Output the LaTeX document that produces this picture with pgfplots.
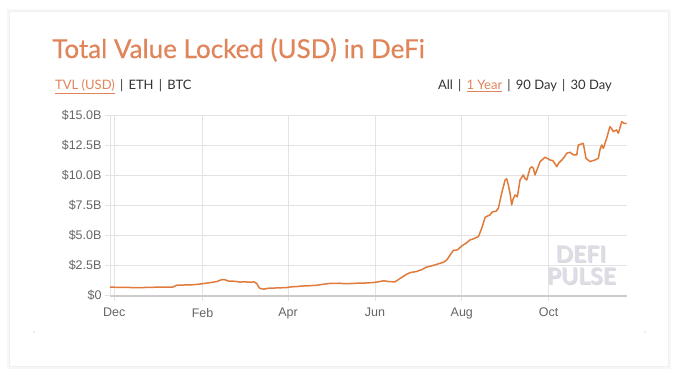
\documentclass[border=0pt]{standalone}
\usepackage{pgfplots}
\pgfplotsset{compat=1.18}
\usetikzlibrary{backgrounds}
\usepackage{fontspec}
\setmainfont{Liberation Sans}
\newfontfamily\hdr{Lato}
\newfontfamily\hdrb{Lato}[FakeBold=0.5]
\definecolor{tvl}{HTML}{E07B3C}
\definecolor{ttl}{HTML}{E0845A}
\definecolor{tick}{HTML}{666666}
\definecolor{grd}{HTML}{E3E3E3}
\definecolor{wm}{HTML}{DDDDE7}
\definecolor{hdrtxt}{HTML}{333333}
\newcommand{\sep}{\hspace{0.4em}|\hspace{0.4em}}
\begin{document}
\begin{tikzpicture}[x=1pt,y=1pt]
\begin{axis}[
  name=ax, scale only axis,
  width=517pt, height=180.5pt,
  xmin=-3, xmax=360, ymin=0, ymax=15,
  xtick={0,62,122,183,244,305},
  xticklabels={Dec,Feb,Apr,Jun,Aug,Oct},
  ytick={0,2.5,5,7.5,10,12.5,15},
  yticklabels={\$0,\$2.5B,\$5.0B,\$7.5B,\$10.0B,\$12.5B,\$15.0B},
  grid=major, grid style={grd, line width=0.8pt},
  axis x line*=bottom, axis y line*=left,
  x axis line style={draw=black!20, line width=2pt},
  y axis line style={draw=grd, line width=0.8pt},
  tick style={grd, line width=0.8pt}, tick align=outside, major tick length=5pt,
  ticklabel style={font=\fontsize{12.5}{14}\selectfont, text=tick},
  xticklabel style={yshift=-4pt},
  clip=false,
]
\addplot[tvl, line width=1.5pt, line join=round] coordinates {
(-3,0.69) (5,0.68) (10,0.67) (15,0.65) (20,0.66) (25,0.68) (30,0.69) (36,0.70) (41,0.70)
(44,0.86) (48,0.87) (52,0.88) (56,0.90) (60,0.95) (63,1.00) (66,1.05) (69,1.10) (72,1.16)
(75,1.30) (77,1.33) (79,1.25) (80,1.20) (85,1.18) (88,1.12) (92,1.13) (96,1.10) (98,1.14)
(100,1.00) (102,0.60) (105,0.53) (108,0.60) (112,0.62) (115,0.63) (121,0.66) (124,0.72)
(128,0.74) (131,0.78) (135,0.80) (142,0.85) (146,0.92) (151,1.00) (158,1.02) (162,0.98)
(165,0.99) (172,1.03) (177,1.04) (182,1.08) (186,1.15) (189,1.22) (193,1.16) (197,1.13)
(202,1.52) (205,1.75) (208,1.91) (212,1.99) (216,2.15) (219,2.35) (224,2.50) (228.8,2.68)
(231,2.75) (233.5,2.96) (236,3.40) (238,3.74) (241,3.80) (244,4.12) (247,4.35) (249.8,4.62)
(252,4.70) (255.7,4.90) (258,5.59) (260.4,6.50) (262,6.60) (263.9,6.70) (265,6.90)
(266.2,6.97) (268,7.00) (269.7,7.25) (272,8.5) (274.4,9.6) (275.5,9.7) (276.7,9.19)
(278,8.4) (279,7.53) (280,8.0) (281.4,8.36) (283,8.2) (284.9,9.6) (287.2,10.02) (288.5,9.7)
(289.6,9.6) (291.9,10.57) (293,10.7) (294.3,10.57) (295.4,10.02) (297,10.5) (299,11.13)
(302.5,11.49) (304,11.4) (306,11.26) (308,11.2) (310.7,10.71) (312,11.0) (314.2,11.26)
(316,11.5) (317.7,11.82) (320,11.9) (322.4,11.68) (324.7,11.68) (325.8,12.51) (327,12.55)
(329.3,12.65) (331.2,11.4) (334,11.13) (337.5,11.26) (339.9,11.4) (341,12.1) (342.2,12.51)
(343.4,12.23) (345.7,13.06) (348,14.03) (349,13.9) (350.4,13.62) (352.7,13.76) (353.9,13.48)
(355,13.9) (356.3,14.45) (358,14.30) (359.8,14.31)
};
\coordinate (O) at (rel axis cs:0,0);
\end{axis}
\begin{scope}[shift={(O)}, xshift=-110pt, yshift=-80.5pt]
\begin{pgfonlayer}{background}
\fill[white] (0,0) rectangle (680,376);
\fill[black!3] (7,7) rectangle (671,367);
\fill[black!6] (9,9) rectangle (669,365);
\fill[white] (10,10) rectangle (668,364);
\end{pgfonlayer}
\fill[black!30] (34,44) circle (0.6);
\fill[black!30] (645,44) circle (0.6);
\node[anchor=base west, text=ttl, inner sep=0] at (52,318) {\hdrb\fontsize{26}{30}\selectfont Total Value Locked (USD) in DeFi};
\node[anchor=base west, text=hdrtxt, inner sep=0] at (55,286.5) {\hdr\fontsize{13}{14}\selectfont \textcolor{ttl}{\underline{TVL (USD)}}\sep ETH\sep BTC};
\node[anchor=base east, text=hdrtxt, inner sep=0] at (612,286.5) {\hdr\fontsize{13}{14}\selectfont All\sep\textcolor{ttl}{\underline{1 Year}}\sep 90 Day\sep 30 Day};
\node[text=black!15, font=\hdr\bfseries\fontsize{23}{26}\selectfont, inner sep=0] at (582,121) {DEFI};
\node[text=black!15, font=\hdr\bfseries\fontsize{23}{26}\selectfont, inner sep=0] at (582.5,99) {PULSE};
\node[text=wm, font=\hdr\bfseries\fontsize{23}{26}\selectfont, inner sep=0] at (581,122) {DEFI};
\node[text=wm, font=\hdr\bfseries\fontsize{23}{26}\selectfont, inner sep=0] at (581.5,100) {PULSE};
\pgfresetboundingbox
\useasboundingbox (0,0) rectangle (680,376);
\end{scope}
\end{tikzpicture}
\end{document}
